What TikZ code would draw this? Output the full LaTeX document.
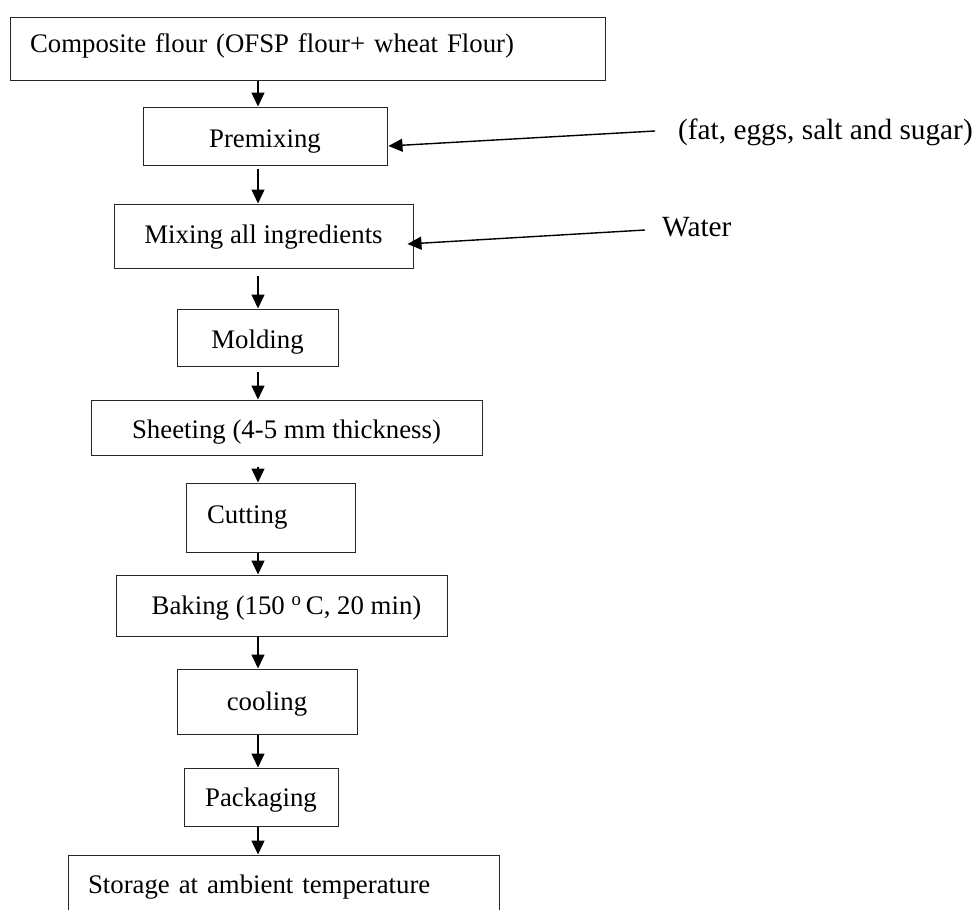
\documentclass[tikz,border=0pt]{standalone}
\usepackage{fontspec}
\setmainfont{Liberation Serif}
\usetikzlibrary{arrows.meta}
\begin{document}
\begin{tikzpicture}[x=1pt,y=-1pt,
  box/.style={draw=black!85, line width=1pt, rectangle, inner sep=0pt, font=\fontsize{26.8}{32}\selectfont, text depth=6pt},
  tv/.style={text height=#1},
  lbl/.style={inner sep=0pt, anchor=west, font=\fontsize{29.3}{34}\selectfont},
  arr/.style={-{Triangle[length=14pt,width=13pt]}, line width=1.4pt, black}]
\clip (0,0) rectangle (975,910);
\fill[white] (0,0) rectangle (975,910);
\coordinate (col) at (258,0);
\node[box, tv=13.8pt, minimum width=595pt, minimum height=63pt, text width=555pt, inner xsep=20pt, align=left] (comp) at (307.5,48.5) {Composite flour (OFSP flour+ wheat Flour)};
\node[box, tv=29.8pt, minimum width=244pt, minimum height=58pt] (pre) at (265,136) {Premixing};
\node[box, tv=21.8pt, minimum width=299pt, minimum height=64pt] (mix) at (263.5,236) {Mixing all ingredients};
\node[box, tv=27.8pt, minimum width=161pt, minimum height=57pt] (mold) at (257.5,337.5) {Molding};
\node[box, tv=27.8pt, minimum width=391pt, minimum height=55pt] (sheet) at (286.5,427.5) {Sheeting (4-5 mm thickness)};
\node[box, tv=17.8pt, minimum width=169pt, minimum height=69pt, text width=127pt, inner xsep=21pt, align=left] (cut) at (270.5,517.5) {Cutting};
\node[box, tv=24.8pt, minimum width=331pt, minimum height=61pt] (bake) at (281.5,605.5) {\hspace*{10pt}Baking (150 \textsuperscript{o}\,C, 20 min)};
\node[box, tv=23pt, minimum width=180pt, minimum height=65pt] (cool) at (267,701.5) {cooling};
\node[box, tv=24.8pt, minimum width=154pt, minimum height=58pt] (pack) at (261,797) {Packaging};
\node[box, tv=23.8pt, minimum width=431pt, minimum height=60pt, text width=391pt, inner xsep=20pt, align=left] (stor) at (283.5,885) {Storage at ambient temperature};
\node[lbl] (fat) at (678,132) {(fat, eggs, salt and sugar)};
\node[lbl] (water) at (662,227) {Water};
\draw[arr] (comp.south -| col) -- (pre.north -| col);
\draw[arr, shorten <=3pt] (pre.south -| col) -- (mix.north -| col);
\draw[arr, shorten <=7pt] (mix.south -| col) -- (mold.north -| col);
\draw[arr, shorten <=5pt] (mold.south -| col) -- (sheet.north -| col);
\draw[arr, shorten <=11pt] (sheet.south -| col) -- (cut.north -| col);
\draw[arr] (cut.south -| col) -- (bake.north -| col);
\draw[arr] (bake.south -| col) -- (cool.north -| col);
\draw[arr] (cool.south -| col) -- (pack.north -| col);
\draw[arr] (pack.south -| col) -- (stor.north -| col);
\draw[arr, line width=1.4pt] ([xshift=-23pt,yshift=1pt]fat.west) -- ([xshift=1pt,yshift=-10pt]pre.east);
\draw[arr, line width=1.4pt] ([xshift=-17pt,yshift=-3pt]water.west) -- ([xshift=-6pt,yshift=-8pt]mix.east);
\end{tikzpicture}
\end{document}
